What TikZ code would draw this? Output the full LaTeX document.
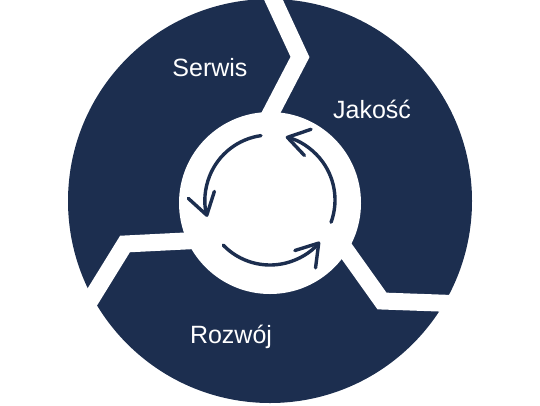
\documentclass[tikz,border=0pt]{standalone}
\usepackage{fontspec}
\setmainfont{Liberation Sans}
\usetikzlibrary{arrows.meta}
\definecolor{navy}{HTML}{1C2E4F}

\begin{document}
\begin{tikzpicture}[x=1pt,y=-1pt,gap/.style={white,line width=17pt,line join=miter},part label/.style={white,anchor=base,font=\fontsize{25}{30}\selectfont},cycle arrow/.style={navy,line width=3.4pt,line cap=round,-{Straight Barb[length=21pt,width=27pt,round]}}]
                \useasboundingbox (0,0) rectangle (540,405);
                \fill[navy] (270,201) circle[radius=202];

                % white gaps between the parts
                \coordinate (t1) at (268,-12);
                \coordinate (t2) at (300,57);
                \coordinate (t3) at (262,130);
                \coordinate (l1) at (75,325);
                \coordinate (l2) at (125,244);
                \coordinate (l3) at (205,240);
                \coordinate (r1) at (495,305);
                \coordinate (r2) at (382,301);
                \coordinate (r3) at (330,228);
                \draw[gap] (t1) -- (t2) -- (t3);
                \draw[gap] (l1) -- (l2) -- (l3);
                \draw[gap] (r1) -- (r2) -- (r3);

                \node[circle,fill=white,minimum size=182pt,inner sep=0pt] (hub) at (270,203) {};
                \coordinate (c) at (270,200);
                \draw[cycle arrow] ([shift={(-98:65)}]c) arc[start angle=-98,end angle=-195,radius=65];
                \draw[cycle arrow] ([shift={(-224:65)}]c) arc[start angle=-224,end angle=-320,radius=65];
                \draw[cycle arrow] ([shift={(-340:65)}]c) arc[start angle=-340,end angle=-436,radius=65];

                \node[part label] (serwis) at (210,76) {Serwis};
                \node[part label] (jakosc) at (372,118) {Jakość};
                \node[part label] (rozwoj) at (231,343) {Rozwój};
            \end{tikzpicture}
\end{document}
